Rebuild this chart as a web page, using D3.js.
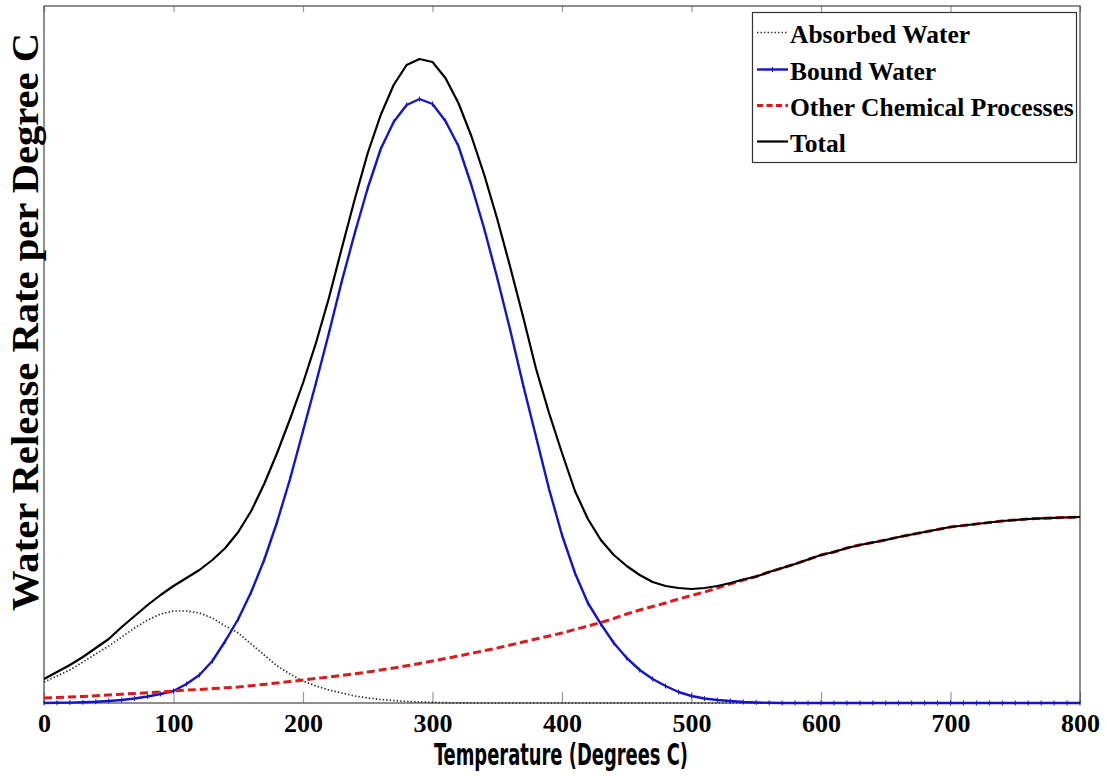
<!DOCTYPE html>
<html>
<head>
<meta charset="utf-8">
<script src="https://cdn.jsdelivr.net/npm/d3@7"></script>
<style>
  html, body { margin: 0; padding: 0; background: #ffffff; }
  svg { display: block; }
</style>
</head>
<body>
<svg id="chart" width="1107" height="776"></svg>
<script>
// ---------------- DATA ----------------
const temperature = [0,10,20,30,40,50,60,70,80,90,100,110,120,130,140,150,160,170,180,190,
  200,210,220,230,240,250,260,270,280,290,300,310,320,330,340,350,360,370,380,390,
  400,410,420,430,440,450,460,470,480,490,500,510,520,530,540,550,560,570,580,590,
  600,610,620,630,640,650,660,670,680,690,700,710,720,730,740,750,760,770,780,790,800];

const absorbedWater = [21,27,33,41,49,57,66,75,83,89,92,92,90,85,77,70,59,48,37,29,
  22,17,13,10,7,5,3.5,2.5,1.5,1,0.6,0.3,0.1,0,0,0,0,0,0,0,
  0,0,0,0,0,0,0,0,0,0,0,0,0,0,0,0,0,0,0,0,
  0,0,0,0,0,0,0,0,0,0,0,0,0,0,0,0,0,0,0,0,0];

const boundWater = [0,0.2,0.4,0.7,1.2,2,3,4.5,6.5,9,12,19,28,42,62,84,111,143,181,224,
  272,320,370,422,470,515,554,581,598,604,599,582,557,518,474,425,373,318,266,214,
  168,130,100,79,60,45,33,24,17,11,7,4.5,3,2,1,0.5,0.2,0,0,0,
  0,0,0,0,0,0,0,0,0,0,0,0,0,0,0,0,0,0,0,0,0];

const otherProcesses = [5,5.5,6,6.5,7.3,8,8.8,9.5,10.3,11,12,12.8,13.6,14.4,15.2,16,17.3,18.6,20,21.5,
  23,24.5,26,27.5,29.2,31,33,35,37.2,39.5,42,44.5,47,49.6,52.3,55,58,61,64,67,
  70,73.5,77,80.5,84.5,89,93,96.5,100,104,107.5,111,115,119,123,126.5,131,135,139,143.5,
  148,151,155,158,160.5,163,166,168.5,171,173.5,176,177.5,179,180.5,182,183,184,184.7,185.2,185.6,186];

const totalRate = [24,31,38,46,55,64,76,87,98,108,117,125,133,143,155,171,192,219,250,284,
  320,360,405,455,504,550,588,618,638,644,641,625,600,567,528,484,436,386,334,290,
  250,212,184,163,148,137,128,121,117,115,114,115,117,120,123.5,126.5,131,135,139,143.5,
  148,151,155,158,160.5,163,166,168.5,171,173.5,176,177.5,179,180.5,182,183,184,184.7,185.2,185.6,186];

const xTicks = [0,100,200,300,400,500,600,700,800];
const xTickLabels = ["0","100","200","300","400","500","600","700","800"];

const seriesNames = ["Absorbed Water","Bound Water","Other Chemical Processes","Total"];
const xTitle = "Temperature (Degrees C)";
const yTitle = "Water Release Rate per Degree C";

// ---------------- LAYOUT ----------------
const plot = { left: 44, right: 1080, top: 6, bottom: 703 };
const svg = d3.select("#chart");

const x = d3.scaleLinear().domain([0, 800]).range([plot.left, plot.right]);
const y = d3.scaleLinear().domain([0, 697]).range([plot.bottom, plot.top]);

const styles = [
  { color: "#2a2a2a", width: 1.7, dash: "1.4,2.1", data: absorbedWater },
  { color: "#1414c8", width: 2.4, dash: null, data: boundWater },
  { color: "#dd1a1a", width: 3, dash: "8,4", data: otherProcesses },
  { color: "#000000", width: 2.2, dash: null, data: totalRate }
];

svg.append("rect").attr("x", 0).attr("y", 0).attr("width", 1107).attr("height", 776).attr("fill", "#fff");

// ---------------- AXES ----------------
const bottomAxis = d3.axisBottom(x)
  .tickValues(xTicks)
  .tickFormat((d, i) => xTickLabels[i])
  .tickSizeInner(-11).tickSizeOuter(0).tickPadding(11);
const gB = svg.append("g").attr("transform", `translate(0,${plot.bottom})`).call(bottomAxis);
gB.select(".domain").remove();
gB.selectAll(".tick line").attr("stroke", "#999").attr("stroke-width", 1.2);
gB.selectAll(".tick text")
  .attr("fill", "#000")
  .style("font-family", "'Liberation Serif', 'Times New Roman', serif")
  .style("font-weight", "bold")
  .style("font-size", "26px");

const topAxis = d3.axisTop(x).tickValues(xTicks).tickFormat("").tickSizeInner(-6).tickSizeOuter(0);
const gT = svg.append("g").attr("transform", `translate(0,${plot.top})`).call(topAxis);
gT.select(".domain").remove();
gT.selectAll(".tick line").attr("stroke", "#999").attr("stroke-width", 1.2);

// frame
svg.append("rect")
  .attr("x", plot.left).attr("y", plot.top)
  .attr("width", plot.right - plot.left).attr("height", plot.bottom - plot.top)
  .attr("fill", "none").attr("stroke", "#444").attr("stroke-width", 1.2);

// ---------------- LINES ----------------
const line = d3.line().x((d, i) => x(temperature[i])).y(d => y(d));
const gLines = svg.append("g");
styles.forEach((s, k) => {
  const p = gLines.append("path")
    .datum(s.data)
    .attr("d", line)
    .attr("fill", "none")
    .attr("stroke", s.color)
    .attr("stroke-width", s.width)
    .attr("stroke-linejoin", "round");
  if (s.dash) p.attr("stroke-dasharray", s.dash);
  if (k === 1) {
    // small markers on the bound-water series
    gLines.append("g").selectAll("line")
      .data(s.data)
      .join("line")
      .attr("x1", (d, i) => x(temperature[i]))
      .attr("x2", (d, i) => x(temperature[i]))
      .attr("y1", d => y(d) - 2.5)
      .attr("y2", d => y(d) + 2.5)
      .attr("stroke", s.color)
      .attr("stroke-width", 1);
  }
});

// ---------------- LEGEND ----------------
const leg = svg.append("g");
leg.append("rect")
  .attr("x", 752.5).attr("y", 12.5).attr("width", 324).attr("height", 150)
  .attr("fill", "#fff").attr("stroke", "#333").attr("stroke-width", 1.2);
const baselines = [43, 80, 116, 152];
seriesNames.forEach((name, k) => {
  const s = styles[k];
  const ly = baselines[k] - 10.5;
  const l = leg.append("line")
    .attr("x1", 757).attr("x2", 788).attr("y1", ly).attr("y2", ly)
    .attr("stroke", s.color).attr("stroke-width", s.width);
  if (s.dash) l.attr("stroke-dasharray", k === 2 ? "6,3.5" : s.dash);
  if (k === 1) {
    leg.append("line").attr("x1", 772.5).attr("x2", 772.5).attr("y1", ly - 2.5).attr("y2", ly + 2.5)
      .attr("stroke", s.color).attr("stroke-width", 1);
  }
  leg.append("text")
    .attr("x", 790).attr("y", baselines[k])
    .text(name)
    .style("font-family", "'Liberation Serif', 'Times New Roman', serif")
    .style("font-weight", "bold")
    .style("font-size", "25.5px")
    .attr("fill", "#000");
});

// ---------------- TITLES ----------------
svg.append("text")
  .attr("x", 434).attr("y", 765)
  .attr("textLength", 254).attr("lengthAdjust", "spacingAndGlyphs")
  .text(xTitle)
  .style("font-family", "'DejaVu Sans Condensed', 'DejaVu Sans', sans-serif")
  .style("font-weight", "bold")
  .style("font-size", "31px")
  .attr("fill", "#000");

svg.append("text")
  .attr("transform", "translate(37.5,611) rotate(-90)")
  .attr("x", 0).attr("y", 0)
  .attr("textLength", 578).attr("lengthAdjust", "spacingAndGlyphs")
  .text(yTitle)
  .style("font-family", "'Liberation Serif', 'Times New Roman', serif")
  .style("font-weight", "bold")
  .style("font-size", "38px")
  .attr("fill", "#000");
</script>
</body>
</html>
